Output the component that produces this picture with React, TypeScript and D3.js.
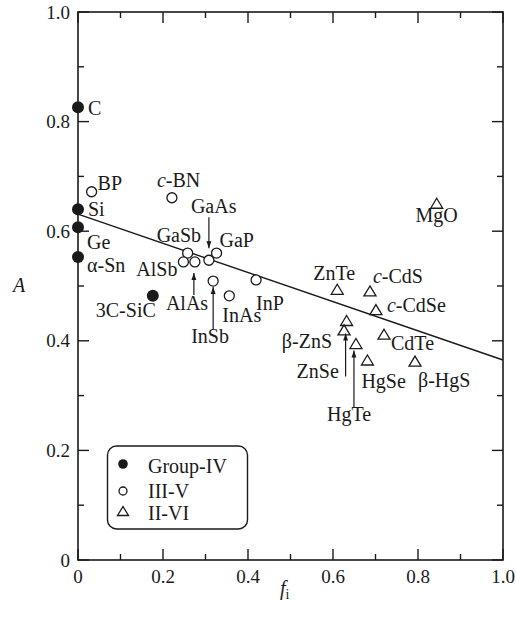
import React from "react";
import * as d3 from "d3";

// Ionicity f_i versus parameter A
const groupIVNames = ["C", "Si", "Ge", "α-Sn", "3C-SiC"];
const groupIVFi = [0, 0, 0, 0, 0.176];
const groupIVA = [0.826, 0.64, 0.607, 0.553, 0.482];

const iiivNames = ["BP", "c-BN", "GaSb", "AlSb", "AlAs", "GaAs", "GaP", "InSb", "InAs", "InP"];
const iiivFi = [0.032, 0.221, 0.258, 0.248, 0.275, 0.308, 0.326, 0.318, 0.356, 0.419];
const iiivA = [0.672, 0.661, 0.56, 0.544, 0.544, 0.547, 0.56, 0.509, 0.482, 0.511];

const iiviNames = ["ZnTe", "c-CdS", "c-CdSe", "ZnSe", "β-ZnS", "HgTe", "HgSe", "CdTe", "β-HgS", "MgO"];
const iiviFi = [0.61, 0.687, 0.701, 0.632, 0.626, 0.654, 0.681, 0.72, 0.793, 0.844];
const iiviA = [0.494, 0.491, 0.457, 0.437, 0.42, 0.395, 0.365, 0.412, 0.363, 0.651];

// Fitted line end points
const fitFi = [0, 1];
const fitA = [0.631, 0.365];

const xTicks = [0, 0.2, 0.4, 0.6, 0.8, 1.0];
const xTickLabels = ["0", "0.2", "0.4", "0.6", "0.8", "1.0"];
const yTicks = [0, 0.2, 0.4, 0.6, 0.8, 1.0];
const yTickLabels = ["0", "0.2", "0.4", "0.6", "0.8", "1.0"];
const minorTicks = [0.1, 0.3, 0.5, 0.7, 0.9];

const legendLabels = ["Group-IV", "III-V", "II-VI"];

// Label placement (pixel offsets from the marker), keyed by name
type Lab = { dx: number; dy: number; anchor?: string; arrow?: [number, number, number] };
const labelLayout: Record<string, Lab> = {
  C: { dx: 10, dy: 8 },
  Si: { dx: 10, dy: 7 },
  Ge: { dx: 9, dy: 22 },
  "α-Sn": { dx: 9, dy: 15 },
  "3C-SiC": { dx: 3, dy: 21, anchor: "end" },
  BP: { dx: 6, dy: -2 },
  "c-BN": { dx: -15, dy: -11 },
  GaSb: { dx: -31, dy: -11 },
  AlSb: { dx: -6, dy: 14, anchor: "end" },
  AlAs: { dx: -29, dy: 48, arrow: [-1, 33, 11] },
  GaAs: { dx: -18, dy: -47, arrow: [0, -43, -12] },
  GaP: { dx: 3, dy: -6 },
  InSb: { dx: -22, dy: 62, arrow: [0, 49, 6] },
  InAs: { dx: -7, dy: 26 },
  InP: { dx: 0, dy: 30 },
  ZnTe: { dx: -24, dy: -9 },
  "c-CdS": { dx: 3, dy: -8 },
  "c-CdSe": { dx: 11, dy: 2 },
  ZnSe: { dx: -50, dy: 57, arrow: [-1, 56, 13] },
  "β-ZnS": { dx: -12, dy: 18, anchor: "end" },
  HgTe: { dx: -29, dy: 77, arrow: [-2, 64, 7] },
  HgSe: { dx: -6, dy: 28 },
  CdTe: { dx: 7, dy: 16 },
  "β-HgS": { dx: 3, dy: 26 },
  MgO: { dx: 0, dy: 19, anchor: "middle" },
};

const W = 516;
const H = 625;
const FONT = "'Liberation Serif', 'Times New Roman', serif";
const INK = "#1a1a1a";

const x = d3.scaleLinear().domain([0, 1]).range([78, 503]);
const y = d3.scaleLinear().domain([0, 1]).range([560, 12]);

function Label({ name, px, py }: { name: string; px: number; py: number }) {
  const l = labelLayout[name];
  const isC = name.startsWith("c-");
  return (
    <g>
      <text
        x={px + l.dx}
        y={py + l.dy}
        textAnchor={l.anchor || "start"}
        fontSize={20}
        fontFamily={FONT}
        fill={INK}
      >
        {isC ? (
          <>
            <tspan fontStyle="italic">c</tspan>
            {name.slice(1)}
          </>
        ) : (
          name
        )}
      </text>
      {l.arrow && (
        <line
          x1={px + l.arrow[0]}
          x2={px + l.arrow[0]}
          y1={py + l.arrow[1]}
          y2={py + l.arrow[2]}
          stroke={INK}
          strokeWidth={1.2}
          markerEnd="url(#arrowHead)"
        />
      )}
    </g>
  );
}

function tri(cx: number, cy: number, w: number, h: number) {
  return `M${cx},${cy - h / 2}L${cx + w / 2},${cy + h / 2}L${cx - w / 2},${cy + h / 2}Z`;
}

export default function App() {
  const line = d3
    .line<number>()
    .x((_, i) => x(fitFi[i]))
    .y((d) => y(d));

  const [x0, x1] = x.range();
  const [y0, y1] = y.range();

  return (
    <svg width={W} height={H} style={{ position: "absolute", left: 0, top: 0 }}>
      <defs>
        <marker
          id="arrowHead"
          viewBox="0 0 10 10"
          refX={10}
          refY={5}
          markerWidth={9}
          markerHeight={7}
          markerUnits="userSpaceOnUse"
          orient="auto"
        >
          <path d="M0,1.5L10,5L0,8.5Z" fill={INK} />
        </marker>
      </defs>
      <rect width={W} height={H} fill="#fff" />

      {/* fitted line */}
      <path d={line(fitA) || ""} fill="none" stroke={INK} strokeWidth={1.4} />

      {/* frame */}
      <rect x={x0} y={y1} width={x1 - x0} height={y0 - y1} fill="none" stroke={INK} strokeWidth={1.6} />

      {/* ticks on all four sides, pointing inward */}
      {xTicks.map((t) => (
        <g key={"xt" + t}>
          <line x1={x(t)} x2={x(t)} y1={y0} y2={y0 - 11} stroke={INK} strokeWidth={1.4} />
          <line x1={x(t)} x2={x(t)} y1={y1} y2={y1 + 11} stroke={INK} strokeWidth={1.4} />
        </g>
      ))}
      {minorTicks.map((t) => (
        <g key={"xm" + t}>
          <line x1={x(t)} x2={x(t)} y1={y0} y2={y0 - 6} stroke={INK} strokeWidth={1.4} />
          <line x1={x(t)} x2={x(t)} y1={y1} y2={y1 + 6} stroke={INK} strokeWidth={1.4} />
          <line x1={x0} x2={x0 + 6} y1={y(t)} y2={y(t)} stroke={INK} strokeWidth={1.4} />
          <line x1={x1} x2={x1 - 6} y1={y(t)} y2={y(t)} stroke={INK} strokeWidth={1.4} />
        </g>
      ))}
      {yTicks.map((t) => (
        <g key={"yt" + t}>
          <line x1={x0} x2={x0 + 11} y1={y(t)} y2={y(t)} stroke={INK} strokeWidth={1.4} />
          <line x1={x1} x2={x1 - 11} y1={y(t)} y2={y(t)} stroke={INK} strokeWidth={1.4} />
        </g>
      ))}

      {/* tick labels */}
      {xTicks.map((t, i) => (
        <text
          key={"xl" + t}
          x={x(t)}
          y={y0 + 23}
          textAnchor="middle"
          fontSize={19}
          fontFamily={FONT}
          fill={INK}
        >
          {xTickLabels[i]}
        </text>
      ))}
      {yTicks.map((t, i) => (
        <text
          key={"yl" + t}
          x={x0 - 8}
          y={y(t) + 6.5}
          textAnchor="end"
          fontSize={19}
          fontFamily={FONT}
          fill={INK}
        >
          {yTickLabels[i]}
        </text>
      ))}

      {/* axis titles */}
      <text x={280} y={595} fontSize={20} fontFamily={FONT} fill={INK}>
        <tspan fontStyle="italic">f</tspan>
        <tspan fontSize={14} dy={4}>i</tspan>
      </text>
      <text x={19} y={292} textAnchor="middle" fontSize={20} fontStyle="italic" fontFamily={FONT} fill={INK}>
        A
      </text>

      {/* group IV: filled circles */}
      {groupIVNames.map((n, i) => (
        <g key={n}>
          <circle cx={x(groupIVFi[i])} cy={y(groupIVA[i])} r={6} fill={INK} />
          <Label name={n} px={x(groupIVFi[i])} py={y(groupIVA[i])} />
        </g>
      ))}

      {/* III-V: open circles */}
      {iiivNames.map((n, i) => (
        <g key={n}>
          <circle cx={x(iiivFi[i])} cy={y(iiivA[i])} r={5} fill="#fff" stroke={INK} strokeWidth={1.3} />
          <Label name={n} px={x(iiivFi[i])} py={y(iiivA[i])} />
        </g>
      ))}

      {/* II-VI: open triangles */}
      {iiviNames.map((n, i) => (
        <g key={n}>
          <path d={tri(x(iiviFi[i]), y(iiviA[i]), 12, 10)} fill="none" stroke={INK} strokeWidth={1.3} />
          <Label name={n} px={x(iiviFi[i])} py={y(iiviA[i])} />
        </g>
      ))}

      {/* legend */}
      <g>
        <rect x={107.5} y={446} width={140} height={83} rx={9} fill="#fff" stroke={INK} strokeWidth={1.4} />
        <circle cx={123} cy={464} r={4.8} fill={INK} />
        <circle cx={123} cy={491} r={4} fill="none" stroke={INK} strokeWidth={1.3} />
        <path d={tri(123, 511, 11, 9)} fill="none" stroke={INK} strokeWidth={1.3} />
        {legendLabels.map((l, i) => (
          <text key={l} x={148} y={[473, 498, 520][i]} fontSize={20} fontFamily={FONT} fill={INK}>
            {l}
          </text>
        ))}
      </g>
    </svg>
  );
}
